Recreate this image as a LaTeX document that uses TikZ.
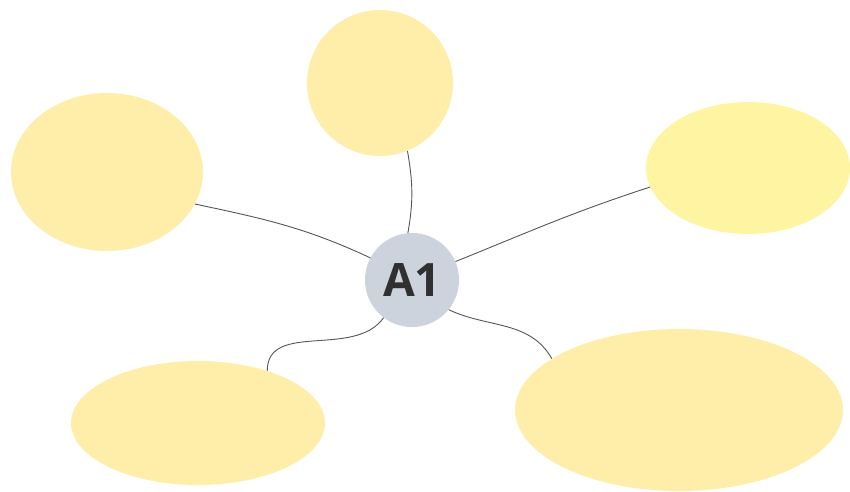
\documentclass[tikz,border=0pt]{standalone}
\usepackage{fontspec}
\setmainfont{Open Sans}
\usetikzlibrary{shapes.geometric}
\definecolor{bubble}{HTML}{FFEEAA}
\definecolor{bubblebright}{HTML}{FFF4A2}
\definecolor{hub}{HTML}{CDD3DC}
\definecolor{hubtext}{HTML}{303030}
\definecolor{link}{HTML}{555555}
\tikzset{
  leaf/.style={ellipse, fill=bubble, draw=none, inner sep=0pt},
  centre/.style={circle, fill=hub, draw=none, inner sep=0pt, minimum size=94pt,
    font=\fontsize{46}{46}\selectfont\bfseries, text=hubtext},
  linkline/.style={draw=link, line width=0.9pt}
}
\begin{document}
\begin{tikzpicture}[x=1pt,y=-1pt]
\useasboundingbox (0,0) rectangle (850,491);
\node[leaf, minimum width=146pt, minimum height=146pt] (top) at (380,83) {};
\node[leaf, minimum width=192pt, minimum height=158pt] (left) at (107,172) {};
\node[leaf, fill=bubblebright, minimum width=204pt, minimum height=132pt] (right) at (748,168) {};
\node[leaf, minimum width=254pt, minimum height=124pt] (bl) at (198,423) {};
\node[leaf, minimum width=328pt, minimum height=162pt] (br) at (679,410) {};
\node[centre] (c) at (412,280) {A1};
\draw[linkline] (c.95) to[out=80,in=-80] (top.-68);
\draw[linkline] (c.152) to[out=155,in=-12] (left.-20);
\draw[linkline] (c.23) to[out=22,in=198] (right.191);
\draw[linkline] (c.233) to[out=-125,in=90] (bl.37);
\draw[linkline] (c.-39) to[out=-25,in=120] (br.158);
\end{tikzpicture}
\end{document}
